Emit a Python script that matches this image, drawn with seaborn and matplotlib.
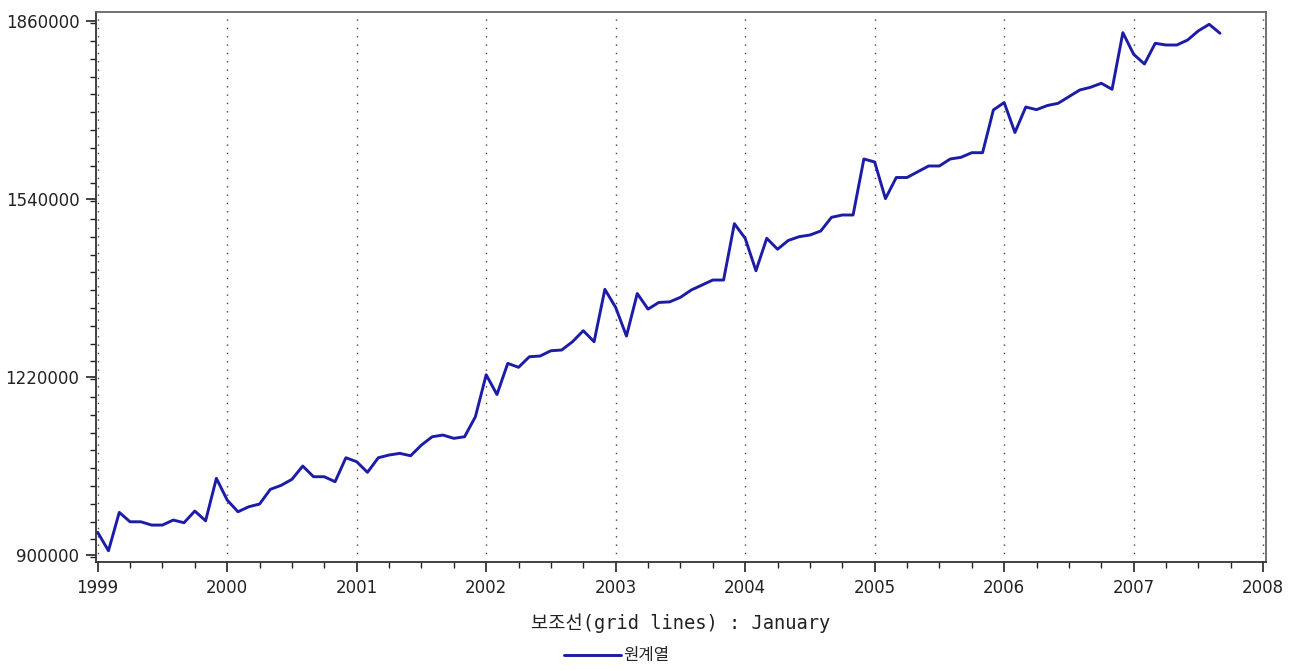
import numpy as np
import pandas as pd
import matplotlib
matplotlib.use("Agg")
import matplotlib.pyplot as plt
from matplotlib.ticker import FixedLocator, MultipleLocator, FuncFormatter
import seaborn as sns

# Monthly series, January 1999 through September 2007
y1999 = [940700, 907600, 976600, 959700, 959700, 953800, 953800, 962800, 958000, 979000, 961500, 1037800]
y2000 = [998800, 977700, 986700, 991600, 1018000, 1025200, 1036000, 1059900, 1040700, 1040700, 1031700, 1074800]
y2001 = [1067700, 1048600, 1074800, 1079700, 1082700, 1078400, 1097600, 1112600, 1115600, 1109700, 1112600, 1148500]
y2002 = [1224000, 1188500, 1244500, 1237400, 1256400, 1257700, 1267200, 1268500, 1283400, 1303200, 1283400, 1377600]
y2003 = [1345000, 1293600, 1370000, 1342000, 1354000, 1355000, 1363200, 1376300, 1385300, 1394300, 1394300, 1495600]
y2004 = [1469300, 1411000, 1469300, 1449700, 1465500, 1472200, 1475200, 1482400, 1507000, 1511200, 1511200, 1611900]
y2005 = [1606500, 1540600, 1578600, 1578600, 1589000, 1599300, 1599300, 1611900, 1614900, 1623200, 1623200, 1700000]
y2006 = [1713400, 1659500, 1705300, 1700600, 1708000, 1712000, 1723900, 1735900, 1740800, 1748000, 1737200, 1839000]
y2007 = [1800100, 1782700, 1819900, 1816800, 1816800, 1825800, 1842300, 1854000, 1837900]

start_year = 1999
year_ticks = list(range(1999, 2009))
y_ticks = [900000, 1220000, 1540000, 1860000]
series_name = "원계열"
x_title = "보조선(grid lines) : January"

values = y1999 + y2000 + y2001 + y2002 + y2003 + y2004 + y2005 + y2006 + y2007
df = pd.DataFrame({
    "t": start_year + np.arange(len(values)) / 12.0,
    "value": values,
})

sns.set_style("ticks")
plt.rcParams["font.family"] = ["DejaVu Sans", "Noto Sans CJK KR"]

fig = plt.figure(figsize=(12.95, 6.70), dpi=100)
ax = fig.add_axes([96 / 1295, 1 - 562 / 670, (1266 - 96) / 1295, (562 - 12.3) / 670])

line_color = "#1c1ca6"
sns.lineplot(data=df, x="t", y="value", ax=ax, color=line_color,
             linewidth=2.1, label=series_name)

ax.set_xlim(1998.987, 2008.022)
ax.set_ylim(887400, 1875600)

ax.xaxis.set_major_locator(FixedLocator(year_ticks))
ax.xaxis.set_minor_locator(MultipleLocator(0.25))
ax.yaxis.set_major_locator(FixedLocator(y_ticks))
ax.yaxis.set_minor_locator(MultipleLocator(32000))
ax.xaxis.set_major_formatter(FuncFormatter(lambda v, p: f"{int(round(v))}"))
ax.yaxis.set_major_formatter(FuncFormatter(lambda v, p: f"{int(round(v))}"))

for y in year_ticks:
    ax.axvline(y, color="#444444", linewidth=1.0, linestyle=(0, (1, 5)), zorder=0)

ax.tick_params(axis="both", which="major", direction="out", length=7, width=1.2,
               colors="#222222", labelsize=12, labelcolor="#222222", pad=5)
ax.tick_params(axis="both", which="minor", direction="out", length=4, width=1.0,
               colors="#222222")

for side, sp in ax.spines.items():
    sp.set_visible(True)
    sp.set_linewidth(1.3)
    sp.set_color("#333333" if side in ("left", "bottom") else "#666666")

ax.set_xlabel(x_title, fontsize=13.5, family=["DejaVu Sans Mono", "Noto Sans CJK KR"],
              color="#222222", labelpad=12)
ax.set_ylabel("")

ax.legend(loc="upper center", bbox_to_anchor=(0.445, -0.128), frameon=False,
          handlelength=3.4, handletextpad=0.1,
          prop={"family": ["Noto Sans CJK KR", "DejaVu Sans"], "size": 12})

fig.savefig("out.png", dpi=100, facecolor="white")
